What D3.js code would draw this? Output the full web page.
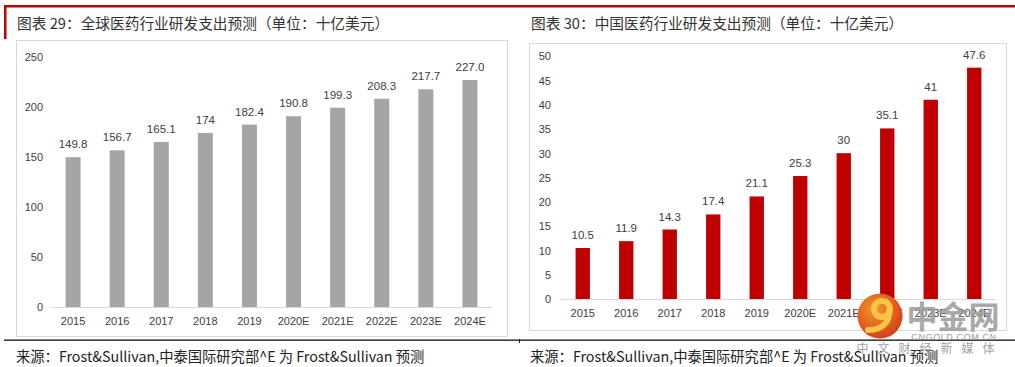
<!DOCTYPE html>
<html><head><meta charset="utf-8">
<script src="https://cdn.jsdelivr.net/npm/d3@7"></script>
<style>
html,body{margin:0;padding:0;background:#fff;}
svg{display:block;}
</style></head>
<body>
<svg id="c" width="1015" height="367"></svg>
<script>
const categories = ["2015","2016","2017","2018","2019","2020E","2021E","2022E","2023E","2024E"];
const globalValues = [149.8,156.7,165.1,174,182.4,190.8,199.3,208.3,217.7,227.0];
const globalLabels = ["149.8","156.7","165.1","174","182.4","190.8","199.3","208.3","217.7","227.0"];
const chinaValues = [10.5,11.9,14.3,17.4,21.1,25.3,30,35.1,41,47.6];
const chinaLabels = ["10.5","11.9","14.3","17.4","21.1","25.3","30","35.1","41","47.6"];
const globalTicks = [0,50,100,150,200,250];
const chinaTicks = [0,5,10,15,20,25,30,35,40,45,50];
const titles = ["图表 29：全球医药行业研发支出预测（单位：十亿美元）","图表 30：中国医药行业研发支出预测（单位：十亿美元）"];
const sourceText = "来源：Frost&Sullivan,中泰国际研究部^E 为 Frost&Sullivan 预测";

const svg = d3.select("#c");
const FONT = "'Liberation Sans','Noto Sans CJK SC',sans-serif";
const CJK = "'Noto Sans CJK SC',sans-serif";
const txt = "#404040";

svg.append("rect").attr("x",4).attr("y",5).attr("width",1011).attr("height",2.5).attr("fill","#c00000");
svg.append("rect").attr("x",4).attr("y",5).attr("width",2.5).attr("height",34).attr("fill","#c00000");

svg.append("rect").attr("x",4).attr("y",339.5).attr("width",1011).attr("height",1.3).attr("fill","#111");
svg.append("line").attr("x1",519.5).attr("x2",519.5).attr("y1",339).attr("y2",343).attr("stroke","#111");

svg.append("text").attr("x",17).attr("y",29).attr("font-family",CJK).attr("font-size",14.7).attr("fill","#333").text(titles[0]);
svg.append("text").attr("x",531).attr("y",29).attr("font-family",CJK).attr("font-size",14.7).attr("fill","#333").text(titles[1]);

svg.append("text").attr("x",16).attr("y",362).attr("font-family",CJK).attr("font-size",14.3).attr("fill","#222").text(sourceText);
svg.append("text").attr("x",530).attr("y",362).attr("font-family",CJK).attr("font-size",14.3).attr("fill","#222").text(sourceText);

function drawChart(cfg){
  const g = svg.append("g");
  g.append("rect").attr("x",cfg.box[0]+0.5).attr("y",cfg.box[1]+0.5).attr("width",cfg.box[2]).attr("height",cfg.box[3])
    .attr("fill","#fff").attr("stroke","#d9d9d9").attr("stroke-width",1);
  const x = d3.scaleBand().domain(categories).range(cfg.xr).paddingInner(cfg.pad).paddingOuter(cfg.pad/2);
  const y = d3.scaleLinear().domain([0,cfg.max]).range(cfg.yr);
  const yAxis = d3.axisLeft(y).tickValues(cfg.ticks).tickSize(0).tickPadding(0);
  const ya = g.append("g").attr("transform",`translate(${cfg.tickX},0)`).call(yAxis);
  ya.select(".domain").remove();
  ya.selectAll("text").attr("font-family",FONT).attr("font-size",11).attr("fill",txt).attr("dy","0.35em");
  const xAxis = d3.axisBottom(x).tickSize(0).tickPadding(10);
  const xa = g.append("g").attr("transform",`translate(0,${cfg.yr[0]})`).call(xAxis);
  xa.select(".domain").attr("stroke","#d9d9d9").attr("d",`M${cfg.xr[0]},0.5H${cfg.xr[1]}`);
  xa.selectAll("text").attr("font-family",FONT).attr("font-size",11).attr("fill",txt);
  g.selectAll("rect.bar").data(cfg.values).join("rect").attr("class","bar")
    .attr("x",(d,i)=>x(categories[i])).attr("width",x.bandwidth())
    .attr("y",d=>y(d)).attr("height",d=>y(0)-y(d)).attr("fill",cfg.color);
  g.selectAll("text.lbl").data(cfg.values).join("text").attr("class","lbl")
    .attr("x",(d,i)=>x(categories[i])+x.bandwidth()/2).attr("y",d=>y(d)-9)
    .attr("text-anchor","middle").attr("font-family",FONT).attr("font-size",11.5).attr("fill",txt)
    .text((d,i)=>cfg.labels[i]);
}

drawChart({box:[16,40,491,296], xr:[51,492], yr:[307,57], max:250, ticks:globalTicks, tickX:43,
  pad:0.66, values:globalValues, labels:globalLabels, color:"#a5a5a5"});
drawChart({box:[529,43,477,287], xr:[561,996], yr:[299,56], max:50, ticks:chinaTicks, tickX:551,
  pad:0.67, values:chinaValues, labels:chinaLabels, color:"#c00000"});

// watermark (logo drawn as shapes)
const wm = svg.append("g");
const defs = svg.append("defs");
const grad = defs.append("radialGradient").attr("id","wmg").attr("cx","40%").attr("cy","35%").attr("r","70%");
grad.append("stop").attr("offset","0%").attr("stop-color","#f39a2c");
grad.append("stop").attr("offset","100%").attr("stop-color","#d33a18");
wm.append("circle").attr("cx",880).attr("cy",316).attr("r",22.5).attr("fill","url(#wmg)");
wm.append("circle").attr("cx",882).attr("cy",309).attr("r",8).attr("fill","none").attr("stroke","#f8c545").attr("stroke-width",6);
wm.append("path").attr("d","M889,311 C890,322 882,330 868,330").attr("fill","none").attr("stroke","#f8c545").attr("stroke-width",6).attr("stroke-linecap","round");
wm.append("text").attr("x",953).attr("y",328).attr("text-anchor","middle").attr("font-family",CJK).attr("font-weight","bold")
  .attr("font-size",31).attr("fill","#9a9a9a").attr("opacity",0.85).text("中金网");
wm.append("text").attr("x",954).attr("y",340).attr("text-anchor","middle").attr("font-family","'Liberation Sans',sans-serif")
  .attr("font-size",9).attr("letter-spacing",0.6).attr("fill","#9a9a9a").text("CNGOLD.COM.CN");
wm.append("text").attr("x",930).attr("y",353).attr("text-anchor","middle").attr("font-family",CJK)
  .attr("font-size",12).attr("letter-spacing",9).attr("fill","#a0a0a0").text("中文财经新媒体");
</script>
</body></html>
